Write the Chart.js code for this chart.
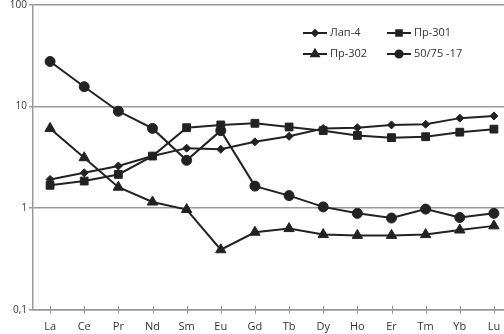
<!DOCTYPE html>
<html>
<head>
<meta charset="utf-8">
<script src="https://cdn.jsdelivr.net/npm/chart.js@4"></script>
<style>
  html, body { margin: 0; padding: 0; background: #fff; overflow: hidden; }
  #grafico-ree { position: absolute; left: 0; top: -3px; }
</style>
</head>
<body>
<canvas id="grafico-ree" width="518" height="338"></canvas>
<script>
const elementos = ["La", "Ce", "Pr", "Nd", "Sm", "Eu", "Gd", "Tb", "Dy", "Ho", "Er", "Tm", "Yb", "Lu"];
const lap4   = [1.92, 2.23, 2.6, 3.26, 3.9, 3.8, 4.5, 5.1, 6.1, 6.2, 6.6, 6.7, 7.7, 8.1];
const pr301  = [1.68, 1.85, 2.15, 3.26, 6.2, 6.6, 6.85, 6.3, 5.8, 5.2, 4.95, 5.05, 5.6, 6.0];
const pr302  = [6.1, 3.14, 1.61, 1.15, 0.97, 0.39, 0.58, 0.63, 0.55, 0.54, 0.54, 0.55, 0.61, 0.67];
const s5075  = [27.8, 15.7, 9.0, 6.1, 2.96, 5.8, 1.65, 1.33, 1.03, 0.89, 0.8, 0.98, 0.81, 0.89];
const yTicks = [0.1, 1, 10, 100];

const cor = "#222";
const fonte = "'Open Sans', sans-serif";

function serie(label, data, pointStyle, radius) {
  return {
    label, data, pointStyle,
    borderColor: cor,
    backgroundColor: cor,
    borderWidth: 2,
    pointRadius: radius,
    pointBorderWidth: 1,
    pointBorderColor: cor,
    pointBackgroundColor: cor,
    tension: 0,
    fill: false
  };
}

// legenda em duas colunas + marcas cruzando o eixo X
const extrasPlugin = {
  id: "extrasRee",
  afterDraw(chart) {
    const ctx = chart.ctx;
    const xs = chart.scales.x;
    const base = chart.chartArea.bottom;
    const topo = chart.chartArea.top;
    ctx.save();
    ctx.strokeStyle = "#999";
    ctx.lineWidth = 1;
    elementos.forEach((_, i) => {
      const px = Math.round(xs.getPixelForValue(i)) + 0.5;
      ctx.beginPath();
      ctx.moveTo(px, base - 4);
      ctx.lineTo(px, base + 4);
      ctx.stroke();
    });
    ctx.restore();

    const pos = [[303, 32], [387, 32], [303, 53], [387, 53]];
    chart.data.datasets.forEach((ds, i) => {
      const [x, yy] = pos[i];
      const y = yy + topo - 4;
      ctx.save();
      ctx.strokeStyle = cor;
      ctx.lineWidth = 2;
      ctx.beginPath();
      ctx.moveTo(x, y);
      ctx.lineTo(x + 24, y);
      ctx.stroke();
      ctx.fillStyle = cor;
      ctx.strokeStyle = cor;
      Chart.helpers.drawPoint(ctx, { pointStyle: ds.pointStyle, radius: ds.pointRadius * 0.72, borderWidth: 1 }, x + 12, y);
      ctx.font = "11px " + fonte;
      ctx.fillStyle = "#333";
      ctx.textBaseline = "middle";
      ctx.fillText(ds.label, x + 27, y);
      ctx.restore();
    });
  }
};

new Chart(document.getElementById("grafico-ree"), {
  type: "line",
  data: {
    labels: elementos,
    datasets: [
      serie("Лап-4", lap4, "rectRot", 4),
      serie("Пр-301", pr301, "rect", 5.5),
      serie("Пр-302", pr302, "triangle", 6),
      serie("50/75 -17", s5075, "circle", 5)
    ]
  },
  options: {
    responsive: false,
    animation: false,
    devicePixelRatio: 1,
    layout: { padding: { top: 0, right: 0, left: 0, bottom: 0 } },
    plugins: {
      legend: { display: false },
      tooltip: { enabled: false }
    },
    scales: {
      x: {
        offset: true,
        grid: { display: false },
        border: { display: true, color: "#999", width: 1.5 },
        ticks: { color: "#333", font: { family: fonte, size: 11 }, padding: 2, maxRotation: 0, autoSkip: false }
      },
      y: {
        type: "logarithmic",
        min: 0.1,
        max: 100,
        afterBuildTicks: axis => { axis.ticks = yTicks.map(v => ({ value: v })); },
        afterFit: axis => { axis.width = 33; },
        grid: { color: "#999", lineWidth: 1.5, drawTicks: true, tickLength: 4 },
        border: { display: true, color: "#999", width: 1.5 },
        ticks: {
          color: "#333",
          font: { family: fonte, size: 10 },
          padding: 2,
          callback: v => String(v).replace(".", ",")
        }
      }
    }
  },
  plugins: [extrasPlugin]
});
</script>
</body>
</html>
